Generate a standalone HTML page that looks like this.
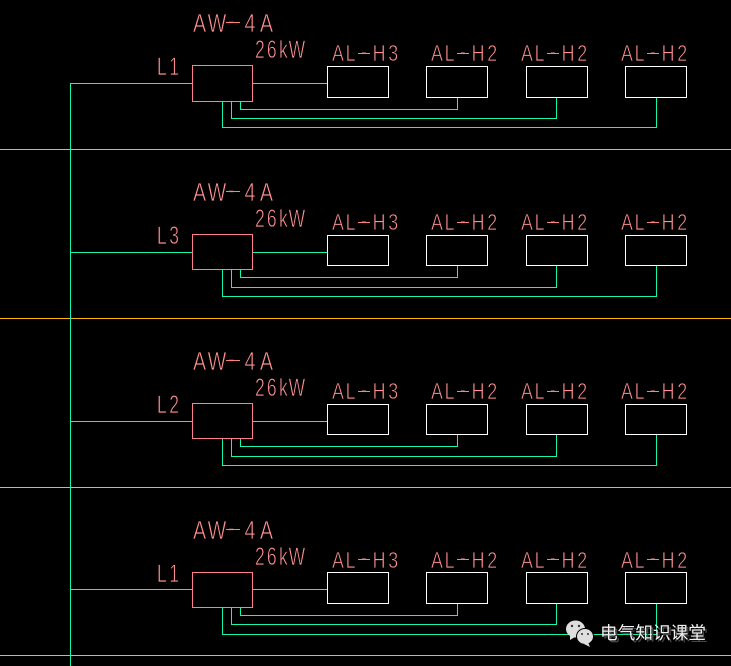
<!DOCTYPE html>
<html><head><meta charset="utf-8"><style>
html,body{margin:0;padding:0;background:#000;width:731px;height:666px;overflow:hidden}
svg{display:block}
.g{fill:none;stroke:#14f7b4;stroke-width:1;shape-rendering:crispEdges}
.y{fill:none;stroke:#ffb900;stroke-width:1;shape-rendering:crispEdges}
.p{fill:none;stroke:#ff7f8f;stroke-width:1;shape-rendering:crispEdges}
.w{fill:none;stroke:#fff;stroke-width:1;shape-rendering:crispEdges}
.d{fill:none;stroke:#ff8080;stroke-width:1;shape-rendering:crispEdges}
text.t{font-family:"Liberation Sans",sans-serif;fill:#ff9090;stroke:#000;stroke-width:.65px;paint-order:fill stroke}
.a{font-size:26px}.b{font-size:25px}.c{font-size:23.5px}
</style></head><body>
<svg width="731" height="666" viewBox="0 0 731 666" xmlns="http://www.w3.org/2000/svg">
<rect width="731" height="666" fill="#000"/>
<path class="y" d="M0 149.5H731M0 318.5H731M0 487.5H731M0 655.5H731"/>
<path class="g" d="M70.5 666V83.5H192M70.5 252.5H192M70.5 421.5H192M70.5 589.5H192"/>
<!-- row 1 -->
<path class="g" d="M252 83.5H327M240.5 101V109.5H457.5V97M231.5 101V118.5H556.5V97M222.5 101V127.5H656.5V97"/>
<rect class="p" x="192.5" y="65.5" width="60" height="36"/>
<rect class="w" x="327.5" y="66.5" width="61" height="31"/><rect class="w" x="426.5" y="66.5" width="61" height="31"/><rect class="w" x="526.5" y="66.5" width="61" height="31"/><rect class="w" x="625.5" y="66.5" width="61" height="31"/>
<text class="t a" transform="translate(193,32) scale(.76,1)" x="0 19.2 46 67.8 88" y="0 0 -2.5 0 0">AW-4A</text>
<text class="t b" transform="translate(255,58) scale(.7,1)" x="0 17 34.3 48" y="0">26kW</text>
<text class="t b" transform="translate(157,75) scale(.7,1)" x="0 17.5" y="0">L1</text>
<text class="t c" transform="translate(332,61) scale(.76,1)" x="0 17.9 38 53.4 74" y="0 0 -1.6 0 0">AL-H3</text>
<text class="t c" transform="translate(431,61) scale(.76,1)" x="0 17.9 38 53.4 74" y="0 0 -1.6 0 0">AL-H2</text>
<text class="t c" transform="translate(521,61) scale(.76,1)" x="0 17.9 38 53.4 74" y="0 0 -1.6 0 0">AL-H2</text>
<text class="t c" transform="translate(621,61) scale(.76,1)" x="0 17.9 38 53.4 74" y="0 0 -1.6 0 0">AL-H2</text>
<path class="d" d="M226 22.5H240M358 53.5H370M457 53.5H469M547 53.5H559M647 53.5H659"/>
<!-- row 2 -->
<path class="g" d="M252 252.5H327M240.5 269V277.5H457.5V265M231.5 269V287.5H556.5V265M222.5 269V296.5H656.5V265"/>
<rect class="p" x="192.5" y="234.5" width="60" height="35"/>
<rect class="w" x="327.5" y="235.5" width="61" height="30"/><rect class="w" x="426.5" y="235.5" width="61" height="30"/><rect class="w" x="526.5" y="235.5" width="61" height="30"/><rect class="w" x="625.5" y="235.5" width="61" height="30"/>
<text class="t a" transform="translate(193,201) scale(.76,1)" x="0 19.2 46 67.8 88" y="0 0 -2.5 0 0">AW-4A</text>
<text class="t b" transform="translate(255,227) scale(.7,1)" x="0 17 34.3 48" y="0">26kW</text>
<text class="t b" transform="translate(157,244) scale(.7,1)" x="0 17.5" y="0">L3</text>
<text class="t c" transform="translate(332,230) scale(.76,1)" x="0 17.9 38 53.4 74" y="0 0 -1.6 0 0">AL-H3</text>
<text class="t c" transform="translate(431,230) scale(.76,1)" x="0 17.9 38 53.4 74" y="0 0 -1.6 0 0">AL-H2</text>
<text class="t c" transform="translate(521,230) scale(.76,1)" x="0 17.9 38 53.4 74" y="0 0 -1.6 0 0">AL-H2</text>
<text class="t c" transform="translate(621,230) scale(.76,1)" x="0 17.9 38 53.4 74" y="0 0 -1.6 0 0">AL-H2</text>
<path class="d" d="M226 191.5H240M358 222.5H370M457 222.5H469M547 222.5H559M647 222.5H659"/>
<!-- row 3 -->
<path class="g" d="M252 421.5H327M240.5 438V446.5H457.5V434M231.5 438V456.5H556.5V434M222.5 438V465.5H656.5V434"/>
<rect class="p" x="192.5" y="403.5" width="60" height="35"/>
<rect class="w" x="327.5" y="404.5" width="61" height="30"/><rect class="w" x="426.5" y="404.5" width="61" height="30"/><rect class="w" x="526.5" y="404.5" width="61" height="30"/><rect class="w" x="625.5" y="404.5" width="61" height="30"/>
<text class="t a" transform="translate(193,370) scale(.76,1)" x="0 19.2 46 67.8 88" y="0 0 -2.5 0 0">AW-4A</text>
<text class="t b" transform="translate(255,396) scale(.7,1)" x="0 17 34.3 48" y="0">26kW</text>
<text class="t b" transform="translate(157,413) scale(.7,1)" x="0 17.5" y="0">L2</text>
<text class="t c" transform="translate(332,399) scale(.76,1)" x="0 17.9 38 53.4 74" y="0 0 -1.6 0 0">AL-H3</text>
<text class="t c" transform="translate(431,399) scale(.76,1)" x="0 17.9 38 53.4 74" y="0 0 -1.6 0 0">AL-H2</text>
<text class="t c" transform="translate(521,399) scale(.76,1)" x="0 17.9 38 53.4 74" y="0 0 -1.6 0 0">AL-H2</text>
<text class="t c" transform="translate(621,399) scale(.76,1)" x="0 17.9 38 53.4 74" y="0 0 -1.6 0 0">AL-H2</text>
<path class="d" d="M226 360.5H240M358 391.5H370M457 391.5H469M547 391.5H559M647 391.5H659"/>
<!-- row 4 -->
<path class="g" d="M252 589.5H327M240.5 607V615.5H457.5V603M231.5 607V624.5H556.5V603M222.5 607V634.5H656.5V603"/>
<rect class="p" x="192.5" y="572.5" width="60" height="35"/>
<rect class="w" x="327.5" y="572.5" width="61" height="31"/><rect class="w" x="426.5" y="572.5" width="61" height="31"/><rect class="w" x="526.5" y="572.5" width="61" height="31"/><rect class="w" x="625.5" y="572.5" width="61" height="31"/>
<text class="t a" transform="translate(193,539) scale(.76,1)" x="0 19.2 46 67.8 88" y="0 0 -2.5 0 0">AW-4A</text>
<text class="t b" transform="translate(255,565) scale(.7,1)" x="0 17 34.3 48" y="0">26kW</text>
<text class="t b" transform="translate(157,582) scale(.7,1)" x="0 17.5" y="0">L1</text>
<text class="t c" transform="translate(332,568) scale(.76,1)" x="0 17.9 38 53.4 74" y="0 0 -2.6 0 0">AL-H3</text>
<text class="t c" transform="translate(431,568) scale(.76,1)" x="0 17.9 38 53.4 74" y="0 0 -2.6 0 0">AL-H2</text>
<text class="t c" transform="translate(521,568) scale(.76,1)" x="0 17.9 38 53.4 74" y="0 0 -2.6 0 0">AL-H2</text>
<text class="t c" transform="translate(621,568) scale(.76,1)" x="0 17.9 38 53.4 74" y="0 0 -2.6 0 0">AL-H2</text>
<path class="d" d="M226 529.5H240M358 559.5H370M457 559.5H469M547 559.5H559M647 559.5H659"/>
<!-- watermark -->
<ellipse cx="575.5" cy="629" rx="9.5" ry="8.5" fill="#dedede"/>
<path d="M570 635l0 5 5-3z" fill="#dedede"/>
<ellipse cx="585" cy="636.5" rx="9" ry="8.5" fill="#000"/>
<ellipse cx="585" cy="636.5" rx="8" ry="7.5" fill="#dedede"/>
<path d="M588 642l2 5-6-3z" fill="#dedede"/>
<circle cx="572" cy="626" r="1.2" fill="#333"/><circle cx="579" cy="626" r="1.2" fill="#333"/>
<circle cx="582" cy="634" r="1" fill="#333"/><circle cx="588" cy="634" r="1" fill="#333"/>
<text x="601" y="640" font-size="17.7" textLength="106" style="font-family:'Liberation Sans','Noto Sans CJK SC',sans-serif;fill:#444" transform="translate(1 1)">电气知识课堂</text>
<text x="600" y="639" font-size="17.7" textLength="106" style="font-family:'Liberation Sans','Noto Sans CJK SC',sans-serif;fill:#f0f0f0">电气知识课堂</text>
</svg>
</body></html>
